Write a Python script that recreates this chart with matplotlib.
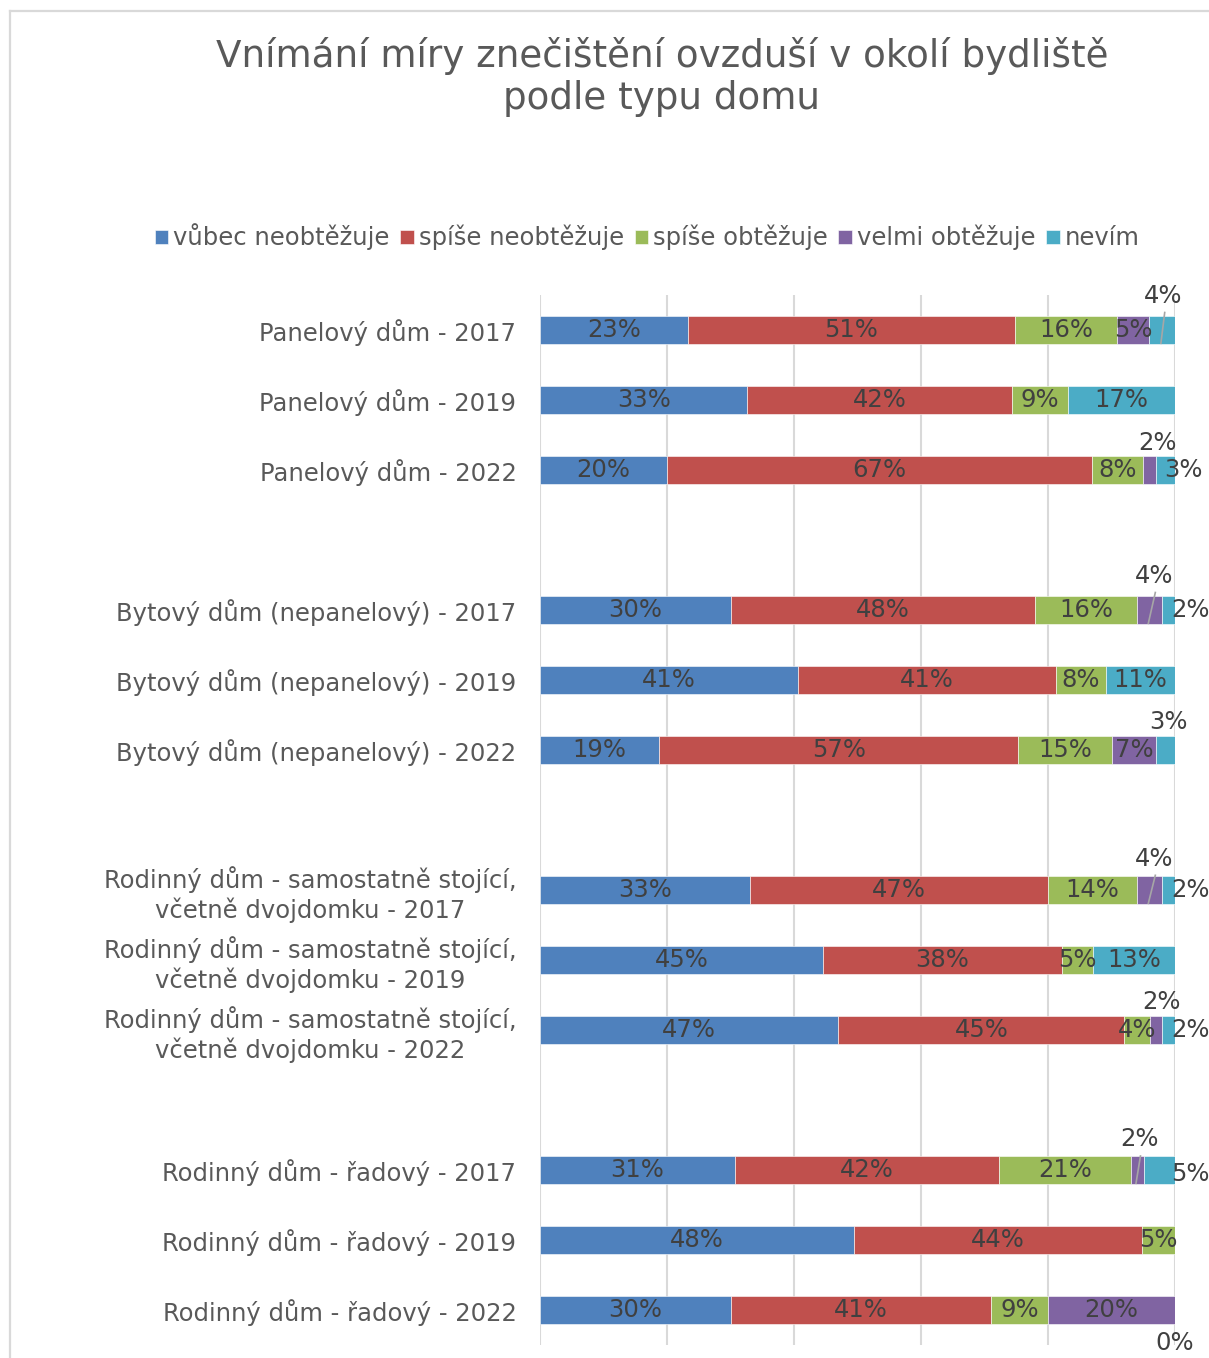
import matplotlib.pyplot as plt
from matplotlib.lines import Line2D

plt.rcParams['font.family'] = ['DejaVu Sans']

# Kategorie (prázdné řádky = mezery mezi skupinami)
categories = [
    "Panelový dům - 2017",
    "Panelový dům - 2019",
    "Panelový dům - 2022",
    "",
    "Bytový dům (nepanelový) - 2017",
    "Bytový dům (nepanelový) - 2019",
    "Bytový dům (nepanelový) - 2022",
    "",
    "Rodinný dům - samostatně stojící,\nvčetně dvojdomku - 2017",
    "Rodinný dům - samostatně stojící,\nvčetně dvojdomku - 2019",
    "Rodinný dům - samostatně stojící,\nvčetně dvojdomku - 2022",
    "",
    "Rodinný dům - řadový - 2017",
    "Rodinný dům - řadový - 2019",
    "Rodinný dům - řadový - 2022",
]

series_names = ["vůbec neobtěžuje", "spíše neobtěžuje", "spíše obtěžuje",
                "velmi obtěžuje", "nevím"]

# hodnoty v % (None = bez hodnoty)
vubec_neobtezuje = [23, 33, 20, None, 30, 41, 19, None, 33, 45, 47, None, 31, 48, 30]
spise_neobtezuje = [51, 42, 67, None, 48, 41, 57, None, 47, 38, 45, None, 42, 44, 41]
spise_obtezuje = [16, 9, 8, None, 16, 8, 15, None, 14, 5, 4, None, 21, 5, 9]
velmi_obtezuje = [5, None, 2, None, 4, None, 7, None, 4, None, 2, None, 2, None, 20]
nevim = [4, 17, 3, None, 2, 11, 3, None, 2, 13, 2, None, 5, None, 0]

series = [vubec_neobtezuje, spise_neobtezuje, spise_obtezuje, velmi_obtezuje, nevim]
colors = ["#4F81BD", "#C0504D", "#9BBB59", "#8064A2", "#4BACC6"]

# posuny popisků, které Excel vysunul ven (série, řádek): (dx %, dy řádku, odkazová čára)
label_moves = {
    (4, 0): (0.2, -0.49, True),
    (3, 2): (1.3, -0.39, False),
    (4, 2): (2.8, 0.0, False),
    (3, 4): (0.7, -0.49, True),
    (4, 4): (3.4, 0.0, False),
    (4, 6): (0.5, -0.40, False),
    (3, 8): (0.7, -0.45, True),
    (4, 8): (3.4, 0.0, False),
    (3, 10): (0.8, -0.40, False),
    (4, 10): (3.4, 0.0, False),
    (3, 12): (0.3, -0.44, True),
    (4, 12): (4.9, 0.06, False),
    (4, 14): (-0.1, 0.47, False),
}

W, H = 1209, 1358
fig = plt.figure(figsize=(W / 100, H / 100), dpi=100)
ax = fig.add_axes([540 / W, 1 - 1345 / H, (1175 - 540) / W, (1345 - 295) / H])

txt = "#595959"
lbl = "#404040"
fs = 17.5

n = len(categories)
rows = list(range(n))
totals = []
for i in rows:
    vals = [s[i] for s in series if s[i] is not None]
    totals.append(sum(vals) if vals else 0)

left = [0.0] * n
for k, (name, s) in enumerate(zip(series_names, series)):
    idx = [i for i, v in enumerate(s) if v is not None]
    widths = [s[i] / totals[i] * 100 for i in idx]
    lefts = [left[i] for i in idx]
    ax.barh(idx, widths, left=lefts, height=0.4, color=colors[k],
            edgecolor="white", linewidth=0.4, label=name, zorder=2)
    for i, w in zip(idx, widths):
        cx = left[i] + w / 2
        cy = i
        dx, dy, leader = label_moves.get((k, i), (0, 0, False))
        ax.text(cx + dx, cy + dy, f"{s[i]}%", ha="center", va="center",
                fontsize=fs, color=lbl, zorder=4)
        if leader:
            ax.plot([cx + dx + 0.2, cx - 0.2], [cy + dy + 0.24, cy + 0.19],
                    color="#A6A6A6", lw=1.2, zorder=3)
        left[i] += w

ax.set_xlim(0, 100)
ax.set_ylim(n - 0.5, -0.5)
ax.set_xticks(range(0, 101, 20))
ax.set_xticklabels([])
ax.tick_params(axis="x", length=0)
ax.set_yticks(rows)
ax.set_yticklabels(categories, fontsize=fs, color=txt)
ax.tick_params(axis="y", length=0, pad=17)
for t in ax.get_yticklabels():
    t.set_multialignment("center")
    t.set_linespacing(1.2)
ax.grid(axis="x", color="#D9D9D9", lw=1.5, zorder=0)
ax.set_axisbelow(True)
for sp in ax.spines.values():
    sp.set_visible(False)

fig.text(662 / W, 1 - 77 / H,
         "Vnímání míry znečištění ovzduší v okolí bydliště\npodle typu domu",
         ha="center", va="center", fontsize=26.8, color=txt, linespacing=1.15)

fig.legend(loc="center", bbox_to_anchor=(647 / W, 1 - 237 / H), ncol=5,
           frameon=False, fontsize=fs, labelcolor=txt, handlelength=0.55,
           handleheight=0.55, handletextpad=0.2, columnspacing=0.45,
           borderaxespad=0)

# rámeček grafu
bx, by = 10 / W, 1 - 11 / H
fig.add_artist(Line2D([bx, bx], [0, by], color="#D9D9D9", lw=1.6))
fig.add_artist(Line2D([bx, 1], [by, by], color="#D9D9D9", lw=1.6))

fig.savefig("out.png", dpi=100)
